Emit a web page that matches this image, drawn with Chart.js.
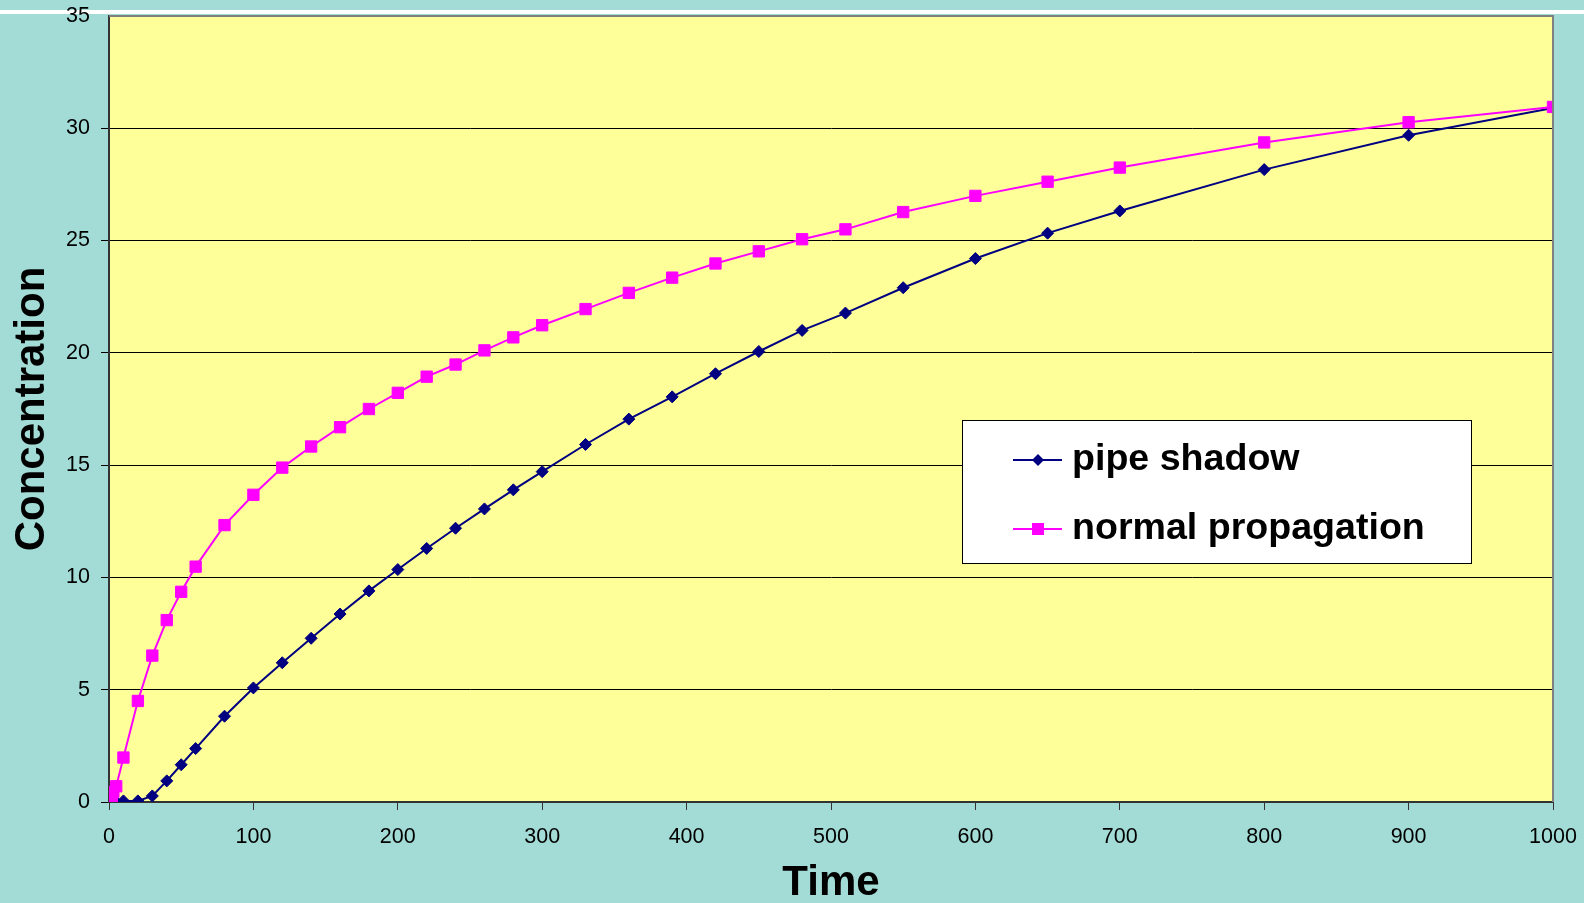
<!DOCTYPE html>
<html>
<head>
<meta charset="utf-8">
<script src="https://cdn.jsdelivr.net/npm/chart.js@4.4.1/dist/chart.umd.min.js"></script>
<style>
  html, body { margin: 0; padding: 0; background: #A3DCD6; }
  #wrap { width: 1584px; height: 903px; position: relative; }
</style>
</head>
<body>
<div id="wrap"><canvas id="c" width="1584" height="903"></canvas></div>
<script>
const times = [0, 1, 2, 3, 5, 10, 20, 30, 40, 50, 60, 80, 100, 120, 140, 160, 180, 200, 220, 240, 260, 280, 300, 330, 360, 390, 420, 450, 480, 510, 550, 600, 650, 700, 800, 900, 1000];
const pipeShadow = [0, 0, 0, 0, 0, 0.05, 0.05, 0.27, 0.94, 1.66, 2.38, 3.82, 5.08, 6.2, 7.29, 8.37, 9.4, 10.35, 11.29, 12.19, 13.05, 13.9, 14.71, 15.92, 17.05, 18.04, 19.07, 20.06, 21.0, 21.77, 22.9, 24.2, 25.33, 26.32, 28.16, 29.69, 30.9];
const normalPropagation = [0, 0.1, 0.25, 0.45, 0.7, 1.98, 4.5, 6.52, 8.1, 9.36, 10.48, 12.33, 13.68, 14.89, 15.83, 16.69, 17.5, 18.22, 18.94, 19.48, 20.11, 20.69, 21.23, 21.95, 22.67, 23.35, 23.98, 24.52, 25.06, 25.5, 26.27, 26.99, 27.62, 28.25, 29.37, 30.27, 30.95];
const seriesNames = ['pipe shadow', 'normal propagation'];
const xTitle = 'Time';
const yTitle = 'Concentration';

const FONT = '"Liberation Sans", Arial, sans-serif';

function zeroPad(s) { s.paddingTop = 0; s.paddingBottom = 0; s.paddingLeft = 0; s.paddingRight = 0; }

const bgPlugin = {
  id: 'bg',
  beforeDraw(chart) {
    const {ctx, chartArea: a, width} = chart;
    ctx.save();
    ctx.fillStyle = '#A3DCD6';
    ctx.fillRect(0, 0, chart.width, chart.height);
    ctx.fillStyle = '#FFFFFF';
    ctx.fillRect(0, 10, width, 4);
    ctx.fillStyle = '#FFFF99';
    ctx.fillRect(a.left, a.top, a.right - a.left, a.bottom - a.top);
    ctx.restore();
  },
  afterDraw(chart) {
    const {ctx, chartArea: a} = chart;
    ctx.save();
    ctx.strokeStyle = '#808080';
    ctx.lineWidth = 2;
    ctx.beginPath();
    ctx.moveTo(a.left, a.top);
    ctx.lineTo(a.right, a.top);
    ctx.lineTo(a.right, a.bottom);
    ctx.stroke();

    const bx = 962, by = 420, bw = 509, bh = 143;
    ctx.fillStyle = '#FFFFFF';
    ctx.fillRect(bx, by, bw, bh);
    ctx.strokeStyle = '#000000';
    ctx.lineWidth = 1;
    ctx.strokeRect(bx + 0.5, by + 0.5, bw, bh);
    const rows = [460, 529];
    chart.data.datasets.forEach((ds, i) => {
      const y = rows[i];
      const mx = 1038;
      ctx.strokeStyle = ds.borderColor;
      ctx.lineWidth = 2;
      ctx.beginPath();
      ctx.moveTo(1013, y);
      ctx.lineTo(1062, y);
      ctx.stroke();
      ctx.fillStyle = ds.backgroundColor;
      if (ds.pointStyle === 'rectRot') {
        ctx.beginPath();
        ctx.moveTo(mx - 6, y);
        ctx.lineTo(mx, y - 6);
        ctx.lineTo(mx + 6, y);
        ctx.lineTo(mx, y + 6);
        ctx.closePath();
        ctx.fill();
      } else {
        ctx.fillRect(mx - 6, y - 6, 12, 12);
      }
      ctx.fillStyle = '#000000';
      ctx.font = 'bold 37.6px ' + FONT;
      ctx.textAlign = 'left';
      ctx.textBaseline = 'middle';
      ctx.fillText(ds.label, 1072, y);
    });
    ctx.restore();
  }
};

new Chart(document.getElementById('c'), {
  type: 'line',
  data: {
    labels: times,
    datasets: [
      {
        label: seriesNames[0],
        data: times.map((t, i) => ({x: t, y: pipeShadow[i]})),
        borderColor: '#000080',
        backgroundColor: '#000080',
        borderWidth: 2,
        pointStyle: 'rectRot',
        pointRadius: 6,
        pointBorderWidth: 1,
        tension: 0,
        order: 2
      },
      {
        label: seriesNames[1],
        data: times.map((t, i) => ({x: t, y: normalPropagation[i]})),
        borderColor: '#FF00FF',
        backgroundColor: '#FF00FF',
        borderWidth: 2,
        pointStyle: 'rect',
        pointRadius: 8,
        pointBorderWidth: 1,
        tension: 0,
        order: 1
      }
    ]
  },
  options: {
    responsive: false,
    animation: false,
    devicePixelRatio: 1,
    layout: { padding: { top: 16, right: 31, left: 0, bottom: 0 } },
    plugins: { legend: { display: false }, tooltip: { enabled: false } },
    elements: { line: { fill: false } },
    scales: {
      x: {
        type: 'linear',
        min: 0, max: 1000,
        afterFit(s) { s.height = 101; zeroPad(s); },
        ticks: { stepSize: 100, color: '#000', font: { family: FONT, size: 21.5 }, padding: 14, maxRotation: 0,
                 callback: (v) => String(v) },
        grid: { drawOnChartArea: false, drawTicks: true, tickLength: 8, color: '#333333', lineWidth: 1 },
        border: { display: true, color: '#333333', width: 2 },
        title: { display: true, text: xTitle, color: '#000', font: { family: FONT, size: 42, weight: 'bold', lineHeight: 1 }, padding: { top: 0, bottom: -1 } }
      },
      y: {
        type: 'linear',
        min: 0, max: 35,
        afterFit(s) { s.width = 109; zeroPad(s); },
        ticks: { stepSize: 5, color: '#000', font: { family: FONT, size: 21.5 }, padding: 11 },
        grid: {
          drawTicks: true, tickLength: 8,
          color: (c) => (c.tick && c.tick.value === 35) ? 'rgba(0,0,0,0)' : '#000000',
          lineWidth: 1
        },
        border: { display: true, color: '#333333', width: 2 },
        title: { display: true, text: yTitle, color: '#000', font: { family: FONT, size: 42, weight: 'bold', lineHeight: 1 }, padding: { top: 11, bottom: 0 } }
      }
    }
  },
  plugins: [bgPlugin]
});
</script>
</body>
</html>
